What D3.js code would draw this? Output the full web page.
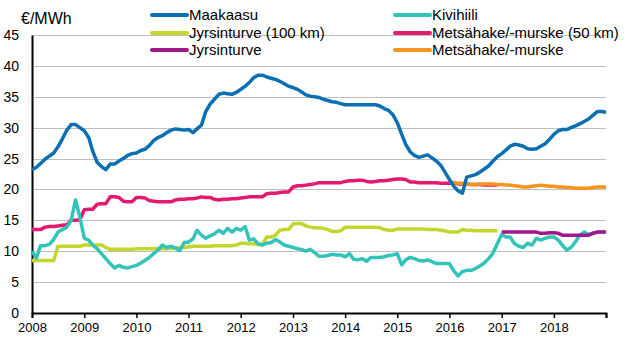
<!DOCTYPE html>
<html>
<head>
<meta charset="utf-8">
<script src="https://cdn.jsdelivr.net/npm/d3@7"></script>
<style>
  body { margin: 0; background: #fff; }
  svg { display: block; font-family: 'Liberation Sans', Arial, sans-serif; }
</style>
</head>
<body>
<div id="chart"></div>
<script>
// Kuukausittaiset hinnat (€/MWh), tammikuu 2008 alkaen
const START = new Date(2008, 0, 1)

const maakaasu = [
  23.2, 23.6, 24.2, 24.9, 25.4, 25.9, 26.9, 28.2, 29.6, 30.5,
  30.5, 30.0, 29.5, 28.4, 26.2, 24.4, 23.7, 23.2, 24.1, 24.1,
  24.6, 25.0, 25.5, 25.8, 25.9, 26.3, 26.5, 27.1, 27.9, 28.4,
  28.7, 29.2, 29.6, 29.8, 29.7, 29.6, 29.7, 29.2, 29.8, 30.4,
  32.6, 33.8, 34.6, 35.4, 35.6, 35.5, 35.4, 35.7, 36.2, 36.7,
  37.3, 38.1, 38.5, 38.5, 38.2, 38.0, 37.8, 37.5, 37.1, 36.7,
  36.5, 36.2, 35.8, 35.3, 35.1, 35.0, 34.9, 34.6, 34.4, 34.2,
  34.1, 33.9, 33.7, 33.7, 33.7, 33.7, 33.7, 33.7, 33.7, 33.7,
  33.5, 33.1, 32.8, 32.1, 30.8, 28.9, 27.3, 26.1, 25.5, 25.2,
  25.4, 25.6, 25.1, 24.6, 23.9, 22.8, 21.6, 20.5, 19.8, 19.4,
  22.0, 22.2, 22.4, 22.8, 23.3, 23.8, 24.6, 25.3, 25.8, 26.4,
  27.0, 27.3, 27.2, 27.0, 26.6, 26.5, 26.6, 27.0, 27.4, 28.1,
  28.9, 29.5, 29.7, 29.7, 30.0, 30.3, 30.6, 31.0, 31.4, 32.0,
  32.6, 32.6, 32.5
]

const kivihiili = [
  10.0, 8.9, 10.9, 10.9, 11.1, 11.9, 13.1, 13.5, 13.9, 15.0,
  18.3, 15.5, 12.1, 11.8, 11.0, 10.4, 9.6, 8.8, 8.0, 7.3,
  7.7, 7.4, 7.3, 7.5, 7.7, 8.1, 8.5, 9.0, 9.6, 10.2,
  11.0, 10.6, 10.8, 10.5, 10.1, 11.4, 11.5, 12.0, 13.4, 12.6,
  12.1, 12.5, 12.8, 13.4, 12.9, 13.7, 13.1, 13.7, 13.4, 14.0,
  11.8, 12.0, 11.2, 11.0, 11.3, 11.4, 11.9, 11.5, 11.0, 10.8,
  10.6, 10.4, 10.3, 10.0, 10.3, 9.8, 9.2, 9.2, 9.3, 9.5,
  9.4, 9.4, 9.1, 9.6, 8.7, 8.6, 8.8, 8.4, 9.0, 9.0,
  9.0, 9.1, 9.3, 9.4, 9.6, 7.8, 8.6, 9.0, 8.8, 8.5,
  8.4, 8.6, 8.3, 8.0, 8.0, 8.0, 8.0, 6.8, 6.0, 6.7,
  6.9, 6.9, 7.2, 7.6, 8.1, 8.8, 9.7, 11.2, 12.7, 12.3,
  12.3, 11.2, 10.8, 10.6, 11.3, 11.0, 12.1, 11.8, 12.1, 12.3,
  12.3, 11.8, 11.0, 10.2, 10.6, 11.5, 12.6, 13.1, 12.7, 12.9,
  13.1, 13.1, 13.1
]

const jyrsinturve100 = [
  8.5, 8.5, 8.5, 8.5, 8.5, 8.5, 10.8, 10.8, 10.8, 10.8,
  10.8, 10.8, 11.0, 11.0, 11.0, 11.0, 11.0, 10.6, 10.3, 10.3,
  10.3, 10.3, 10.3, 10.3, 10.4, 10.4, 10.4, 10.4, 10.4, 10.4,
  10.4, 10.4, 10.5, 10.5, 10.6, 10.6, 10.7, 10.8, 10.8, 10.8,
  10.8, 10.8, 10.9, 10.9, 10.9, 10.9, 10.9, 11.0, 11.3, 11.3,
  11.2, 11.2, 11.1, 11.1, 12.3, 12.3, 12.6, 13.4, 13.5, 13.5,
  14.4, 14.5, 14.5, 14.1, 13.9, 13.8, 13.8, 13.7, 13.5, 13.2,
  13.2, 13.3, 13.9, 13.9, 13.9, 13.9, 13.9, 13.9, 13.9, 13.9,
  13.8, 13.5, 13.4, 13.4, 13.6, 13.6, 13.6, 13.6, 13.6, 13.6,
  13.6, 13.5, 13.5, 13.5, 13.4, 13.3, 13.1, 13.1, 13.1, 13.5,
  13.4, 13.4, 13.3, 13.3, 13.3, 13.3, 13.3, 13.3
]

const metsahake50 = [
  13.5, 13.5, 13.5, 13.9, 14.0, 14.0, 14.1, 14.2, 14.3, 15.0,
  15.0, 15.1, 16.7, 16.8, 16.8, 17.6, 17.7, 17.7, 18.8, 18.8,
  18.7, 18.1, 18.0, 18.0, 18.7, 18.7, 18.6, 18.2, 18.1, 18.0,
  18.0, 18.0, 18.0, 18.3, 18.4, 18.4, 18.5, 18.5, 18.6, 18.8,
  18.7, 18.7, 18.4, 18.3, 18.4, 18.4, 18.5, 18.5, 18.6, 18.7,
  18.8, 18.8, 18.8, 18.8, 19.3, 19.4, 19.4, 19.5, 19.6, 19.6,
  20.4, 20.6, 20.6, 20.7, 20.8, 20.9, 21.1, 21.1, 21.1, 21.1,
  21.1, 21.1, 21.3, 21.4, 21.4, 21.5, 21.5, 21.3, 21.2, 21.3,
  21.4, 21.4, 21.5, 21.6, 21.7, 21.7, 21.6, 21.2, 21.2, 21.1,
  21.1, 21.1, 21.1, 21.1, 21.0, 21.0, 21.0, 21.0, 20.9, 20.9,
  20.9, 20.8, 20.8, 20.8, 20.7, 20.7, 20.7, 20.7
]

// alkaa tammikuusta 2017 (kuukausi 108)
const jyrsinturve = [
  13.1, 13.1, 13.1, 13.1, 13.1, 13.1, 13.1, 13.1, 13.1, 12.9,
  12.9, 13.0, 13.0, 12.9, 12.6, 12.6, 12.6, 12.6, 12.6, 12.6,
  12.6, 12.9, 13.1, 13.1, 13.1
]

// alkaa tammikuusta 2016 (kuukausi 96)
const metsahake = [
  21.2, 21.1, 21.0, 21.0, 20.9, 20.8, 20.8, 20.9, 20.9, 20.9,
  20.9, 20.8, 20.8, 20.7, 20.7, 20.6, 20.5, 20.4, 20.4, 20.5,
  20.6, 20.7, 20.6, 20.5, 20.5, 20.4, 20.4, 20.3, 20.3, 20.2,
  20.2, 20.2, 20.2, 20.3, 20.4, 20.4, 20.4
]

const YEAR_LABELS = ['2008', '2009', '2010', '2011', '2012', '2013', '2014', '2015', '2016', '2017', '2018']
const Y_TICKS = [0, 5, 10, 15, 20, 25, 30, 35, 40, 45]
const UNIT = '€/MWh'

const SERIES = [
  { name: 'Maakaasu', values: maakaasu, offset: 0, color: '#0b6fb3' },
  { name: 'Kivihiili', values: kivihiili, offset: 0, color: '#33c3b9' },
  { name: 'Jyrsinturve (100 km)', values: jyrsinturve100, offset: 0, color: '#c3d62c' },
  { name: 'Metsähake/-murske (50 km)', values: metsahake50, offset: 0, color: '#e31a6f' },
  { name: 'Jyrsinturve', values: jyrsinturve, offset: 108, color: '#a0198a' },
  { name: 'Metsähake/-murske', values: metsahake, offset: 96, color: '#f7941e' }
]

// Kaavion mitat
const WIDTH = 628
const HEIGHT = 363
const MARGIN = { top: 35, right: 22, bottom: 50, left: 32 }

const svg = d3.select('#chart')
  .append('svg')
  .attr('width', WIDTH)
  .attr('height', HEIGHT)

const x = d3.scaleTime()
  .domain([START, new Date(2019, 0, 1)])
  .range([MARGIN.left, WIDTH - MARGIN.right])

const y = d3.scaleLinear()
  .domain([0, 45])
  .range([HEIGHT - MARGIN.bottom, MARGIN.top])

// Vaakaviivat
svg.append('g')
  .selectAll('line')
  .data(Y_TICKS.filter(d => d > 0))
  .join('line')
  .attr('x1', MARGIN.left)
  .attr('x2', WIDTH - MARGIN.right)
  .attr('y1', d => Math.round(y(d)) + 0.5)
  .attr('y2', d => Math.round(y(d)) + 0.5)
  .attr('stroke', '#bfbfbf')
  .attr('stroke-width', 1)

// Y-akseli
const yAxis = svg.append('g')
  .attr('transform', `translate(${MARGIN.left}, 0)`)
  .call(d3.axisLeft(y).tickValues(Y_TICKS).tickSize(0).tickPadding(13))
yAxis.select('.domain').attr('stroke', '#000').attr('stroke-width', 2)
yAxis.selectAll('text')
  .style('font-size', '14px')
  .style('fill', '#000')
  .style('font-family', "'Liberation Sans', Arial, sans-serif")

// X-akseli
const yearTicks = d3.timeYear.range(START, new Date(2019, 0, 2))
const xAxis = svg.append('g')
  .attr('transform', `translate(0, ${y(0)})`)
  .call(d3.axisBottom(x)
    .tickValues(yearTicks)
    .tickSize(5)
    .tickPadding(5)
    .tickFormat((d, i) => YEAR_LABELS[i] || ''))
xAxis.select('.domain').attr('stroke', '#000').attr('stroke-width', 2)
xAxis.selectAll('.tick line').attr('stroke', '#000').attr('stroke-width', 1.5)
xAxis.selectAll('text')
  .style('font-size', '13px')
  .style('fill', '#000')
  .style('font-family', "'Liberation Sans', Arial, sans-serif")

svg.append('text')
  .attr('x', 21)
  .attr('y', 24)
  .style('font-size', '16px')
  .style('fill', '#000')
  .text(UNIT)

// Viivat
const line = d3.line()
  .x(d => x(d.date))
  .y(d => y(d.value))

const drawOrder = [3, 5, 2, 1, 4, 0]
svg.append('g')
  .selectAll('path')
  .data(drawOrder.map(i => SERIES[i]))
  .join('path')
  .attr('fill', 'none')
  .attr('stroke', d => d.color)
  .attr('stroke-width', 3.5)
  .attr('stroke-linejoin', 'round')
  .attr('d', s => line(s.values.map((v, i) => ({
    date: d3.timeMonth.offset(START, s.offset + i),
    value: v
  }))))

// Selite
const LEGEND_POS = [
  { x: 152, y: 15 }, { x: 395, y: 15 },
  { x: 152, y: 33 }, { x: 395, y: 33 },
  { x: 152, y: 50 }, { x: 395, y: 50 }
]
const legend = svg.append('g')
  .selectAll('g')
  .data(SERIES)
  .join('g')
  .attr('transform', (d, i) => `translate(${LEGEND_POS[i].x}, ${LEGEND_POS[i].y})`)
legend.append('line')
  .attr('x1', 0)
  .attr('x2', 35)
  .attr('stroke', d => d.color)
  .attr('stroke-width', 4)
  .attr('stroke-linecap', 'round')
legend.append('text')
  .attr('x', 37)
  .attr('y', 5)
  .style('font-size', '15px')
  .style('fill', '#000')
  .text(d => d.name)
</script>
</body>
</html>
